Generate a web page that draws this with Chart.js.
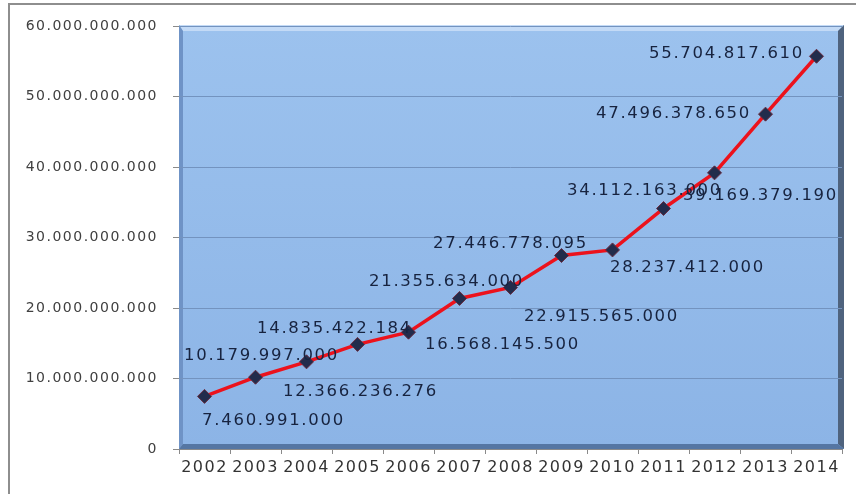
<!DOCTYPE html>
<html>
<head>
<meta charset="utf-8">
<script src="https://cdn.jsdelivr.net/npm/chart.js@4/dist/chart.umd.min.js"></script>
<style>
  html, body { margin: 0; padding: 0; background: #fff; }
  #wrap { width: 856px; height: 494px; position: relative; }
</style>
</head>
<body>
<div id="wrap"><canvas id="myChart" width="856" height="494"></canvas></div>
<script>
/* data */
let years = ['2002', '2003', '2004', '2005', '2006', '2007', '2008',
             '2009', '2010', '2011', '2012', '2013', '2014'];
let amounts = [
    7460991000, 10179997000, 12366236276, 14835422184, 16568145500,
    21355634000, 22915565000, 27446778095, 28237412000, 34112163000,
    39169379190, 47496378650, 55704817610
];
let yTicks = [0, 10000000000, 20000000000, 30000000000, 40000000000, 50000000000, 60000000000];

/* where each value label sits, relative to its point (px) */
let labelShift = [
    [69, 24], [6, -22], [54, 30], [-23, -16], [94, 13], [-13, -17], [91, 29],
    [-51, -12], [75, 18], [-19, -18], [46, 23], [-92, 0], [-90, -3]
];

/* dots as thousand separators */
function dots(v){
    return String(Math.round(v)).replace(/\B(?=(\d{3})+(?!\d))/g, '.');
}

/* blue bevelled plot box + outer frame */
let plotBox = {
    id: 'plotBox',
    beforeDraw(chart){
        let ctx = chart.ctx;
        let a = chart.chartArea;
        ctx.letterSpacing = '1.5px';
        ctx.save();
        ctx.fillStyle = '#fff';
        ctx.fillRect(0, 0, chart.width, chart.height);
        // outer frame
        ctx.strokeStyle = '#8e8e8e';
        ctx.lineWidth = 2;
        ctx.beginPath();
        ctx.moveTo(9, chart.height + 5);
        ctx.lineTo(9, 4);
        ctx.lineTo(chart.width + 5, 4);
        ctx.stroke();

        let l = a.left, t = a.top - 1, r = a.right + 2, b = a.bottom;
        let g = ctx.createLinearGradient(0, t, 0, b);
        g.addColorStop(0, '#9cc2ee');
        g.addColorStop(1, '#8cb4e6');
        ctx.fillStyle = g;
        ctx.fillRect(l, t, r - l, b - t);
        // bevel: light top, dark right / bottom, mid left
        ctx.fillStyle = '#c3daf6';
        ctx.beginPath();
        ctx.moveTo(l, t); ctx.lineTo(r, t); ctx.lineTo(r - 6, t + 6); ctx.lineTo(l + 4, t + 6);
        ctx.closePath(); ctx.fill();
        ctx.fillStyle = '#6f93c6';
        ctx.beginPath();
        ctx.moveTo(l, t); ctx.lineTo(l + 4, t + 6); ctx.lineTo(l + 4, b - 5); ctx.lineTo(l, b);
        ctx.closePath(); ctx.fill();
        ctx.fillStyle = '#4f637e';
        ctx.beginPath();
        ctx.moveTo(r, t); ctx.lineTo(r, b); ctx.lineTo(r - 6, b - 5); ctx.lineTo(r - 6, t + 6);
        ctx.closePath(); ctx.fill();
        ctx.fillStyle = '#5576a3';
        ctx.beginPath();
        ctx.moveTo(l, b); ctx.lineTo(r, b); ctx.lineTo(r - 6, b - 5); ctx.lineTo(l + 4, b - 5);
        ctx.closePath(); ctx.fill();
        ctx.restore();
    }
};

/* value labels next to the points */
let valueLabels = {
    id: 'valueLabels',
    afterDatasetsDraw(chart){
        let ctx = chart.ctx;
        let pts = chart.getDatasetMeta(0).data;
        ctx.save();
        ctx.font = '16.5px "DejaVu Sans"';
        ctx.letterSpacing = '1.7px';
        ctx.fillStyle = '#17233f';
        ctx.textAlign = 'center';
        ctx.textBaseline = 'middle';
        for(let i = 0; i < pts.length; i++){
            let s = labelShift[i];
            ctx.fillText(dots(amounts[i]), pts[i].x + s[0], pts[i].y + s[1]);
        }
        ctx.restore();
    }
};

let config = {
    type: 'line',
    data: {
        labels: years,
        datasets: [{
            data: amounts,
            borderColor: 'rgb(236, 18, 28)',
            borderWidth: 3.5,
            pointStyle: 'rectRot',
            pointRadius: 7,
            pointBackgroundColor: '#222c4c',
            pointBorderColor: '#6a2c40',
            pointBorderWidth: 1,
            tension: 0
        }]
    },
    options: {
        responsive: false,
        animation: false,
        layout: { padding: { top: 26, right: 14, left: 0, bottom: 0 } },
        plugins: { legend: { display: false }, tooltip: { enabled: false } },
        scales: {
            x: {
                offset: true,
                grid: { offset: true, drawOnChartArea: false, tickLength: 5, color: '#8a8a8a' },
                border: { display: true, color: '#8a8a8a' },
                ticks: {
                    color: '#333',
                    font: { family: 'DejaVu Sans', size: 16 },
                    padding: 4,
                    maxRotation: 0,
                    autoSkip: false
                },
                afterFit(scale){ scale.height = 45; }
            },
            y: {
                min: 0,
                max: 60000000000,
                afterBuildTicks(scale){ scale.ticks = yTicks.map(v => ({ value: v })); },
                grid: { color: '#7393bf', tickColor: '#8a8a8a', tickLength: 6 },
                border: { display: false },
                ticks: {
                    color: '#404040',
                    font: { family: 'DejaVu Sans', size: 14 },
                    padding: 15,
                    callback: v => dots(v)
                },
                afterFit(scale){ scale.width = 179; }
            }
        }
    },
    plugins: [plotBox, valueLabels]
};

let myChart = new Chart(document.getElementById('myChart').getContext('2d'), config);
</script>
</body>
</html>
